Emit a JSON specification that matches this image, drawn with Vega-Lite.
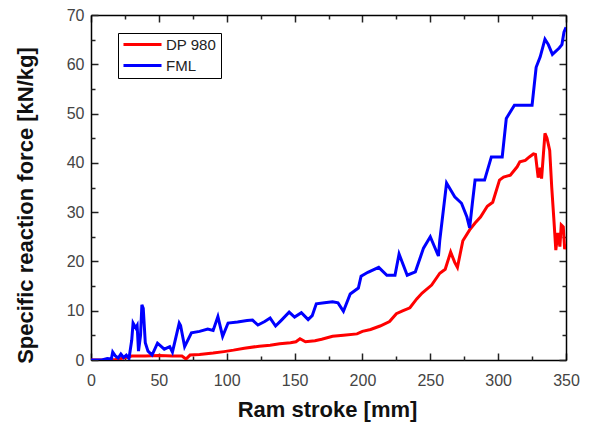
{
  "$schema": "https://vega.github.io/schema/vega-lite/v6.json",
  "width": 475,
  "height": 345,
  "autosize": "none",
  "padding": {"left": 91, "top": 15, "right": 25, "bottom": 68},
  "background": "white",
  "config": {
    "view": {"stroke": null},
    "axis": {"grid": false, "domainColor": "black", "domainWidth": 1.5, "tickColor": "#222", "tickWidth": 1.5, "labelFlush": false,
             "labelFont": "Liberation Sans", "labelFontSize": 16, "labelColor": "#444",
             "titleFont": "Liberation Sans", "titleFontSize": 22, "titleFontWeight": "bold", "titleColor": "#111"}
  },
  "data": {"values": [
    {"s":"DP 980","x":0,"y":0},{"s":"DP 980","x":10,"y":0},{"s":"DP 980","x":18,"y":0.1},{"s":"DP 980","x":22,"y":0.3},{"s":"DP 980","x":27,"y":0.6},{"s":"DP 980","x":30,"y":0.8},{"s":"DP 980","x":40,"y":0.8},{"s":"DP 980","x":50,"y":0.9},{"s":"DP 980","x":60,"y":0.8},{"s":"DP 980","x":67,"y":0.8},{"s":"DP 980","x":70,"y":0.2},{"s":"DP 980","x":73,"y":1.0},{"s":"DP 980","x":80,"y":1.1},{"s":"DP 980","x":90,"y":1.4},{"s":"DP 980","x":98,"y":1.7},{"s":"DP 980","x":105,"y":2.0},{"s":"DP 980","x":113,"y":2.4},{"s":"DP 980","x":124,"y":2.8},{"s":"DP 980","x":132,"y":3.0},{"s":"DP 980","x":139,"y":3.3},{"s":"DP 980","x":147,"y":3.5},{"s":"DP 980","x":151,"y":3.7},{"s":"DP 980","x":154,"y":4.3},{"s":"DP 980","x":158,"y":3.7},{"s":"DP 980","x":165,"y":3.9},{"s":"DP 980","x":170,"y":4.2},{"s":"DP 980","x":178,"y":4.8},{"s":"DP 980","x":186,"y":5.0},{"s":"DP 980","x":196,"y":5.3},{"s":"DP 980","x":200,"y":5.8},{"s":"DP 980","x":206,"y":6.2},{"s":"DP 980","x":213,"y":6.9},{"s":"DP 980","x":220,"y":7.8},{"s":"DP 980","x":225,"y":9.4},{"s":"DP 980","x":230,"y":10.0},{"s":"DP 980","x":235,"y":10.6},{"s":"DP 980","x":240,"y":12.4},{"s":"DP 980","x":244,"y":13.6},{"s":"DP 980","x":251,"y":15.2},{"s":"DP 980","x":257,"y":17.6},{"s":"DP 980","x":261,"y":18.4},{"s":"DP 980","x":265,"y":21.9},{"s":"DP 980","x":268,"y":19.8},{"s":"DP 980","x":270,"y":18.8},{"s":"DP 980","x":274,"y":24.2},{"s":"DP 980","x":279,"y":26.4},{"s":"DP 980","x":283,"y":27.8},{"s":"DP 980","x":287,"y":29.0},{"s":"DP 980","x":292,"y":31.2},{"s":"DP 980","x":296,"y":32.0},{"s":"DP 980","x":301,"y":36.5},{"s":"DP 980","x":304,"y":37.1},{"s":"DP 980","x":309,"y":37.5},{"s":"DP 980","x":314,"y":39.2},{"s":"DP 980","x":316,"y":40.2},{"s":"DP 980","x":320,"y":40.5},{"s":"DP 980","x":323,"y":41.2},{"s":"DP 980","x":326,"y":41.8},{"s":"DP 980","x":327.5,"y":41.7},{"s":"DP 980","x":329.5,"y":37.0},{"s":"DP 980","x":331,"y":39.0},{"s":"DP 980","x":332,"y":36.8},{"s":"DP 980","x":334.5,"y":46.0},{"s":"DP 980","x":336,"y":45.0},{"s":"DP 980","x":338,"y":42.5},{"s":"DP 980","x":339.5,"y":35.0},{"s":"DP 980","x":341,"y":28.8},{"s":"DP 980","x":342.5,"y":22.3},{"s":"DP 980","x":344,"y":25.8},{"s":"DP 980","x":345.5,"y":23.0},{"s":"DP 980","x":346.5,"y":27.4},{"s":"DP 980","x":348,"y":27.0},{"s":"DP 980","x":349,"y":22.5},{"s":"DP 980","x":350,"y":23.5},
    {"s":"FML","x":0,"y":0},{"s":"FML","x":8,"y":0},{"s":"FML","x":12,"y":0.3},{"s":"FML","x":15,"y":0.2},{"s":"FML","x":16,"y":1.6},{"s":"FML","x":18,"y":0.8},{"s":"FML","x":20,"y":0.4},{"s":"FML","x":22,"y":1.2},{"s":"FML","x":24,"y":0.5},{"s":"FML","x":26,"y":1.0},{"s":"FML","x":28,"y":0.3},{"s":"FML","x":30,"y":4.0},{"s":"FML","x":31,"y":7.5},{"s":"FML","x":33,"y":6.5},{"s":"FML","x":34,"y":7.0},{"s":"FML","x":35,"y":1.8},{"s":"FML","x":36.5,"y":5.0},{"s":"FML","x":37.5,"y":11.2},{"s":"FML","x":38.5,"y":10.5},{"s":"FML","x":40,"y":3.5},{"s":"FML","x":42,"y":1.8},{"s":"FML","x":45,"y":1.0},{"s":"FML","x":49,"y":3.4},{"s":"FML","x":54,"y":2.2},{"s":"FML","x":58,"y":2.7},{"s":"FML","x":60,"y":1.6},{"s":"FML","x":65,"y":7.5},{"s":"FML","x":66,"y":7.0},{"s":"FML","x":69,"y":2.7},{"s":"FML","x":74,"y":5.5},{"s":"FML","x":80,"y":5.8},{"s":"FML","x":86,"y":6.3},{"s":"FML","x":90,"y":6.0},{"s":"FML","x":93.5,"y":8.8},{"s":"FML","x":97,"y":4.8},{"s":"FML","x":101,"y":7.5},{"s":"FML","x":108,"y":7.7},{"s":"FML","x":115,"y":8.0},{"s":"FML","x":119,"y":8.1},{"s":"FML","x":123,"y":7.1},{"s":"FML","x":128,"y":7.8},{"s":"FML","x":132,"y":8.5},{"s":"FML","x":136,"y":6.9},{"s":"FML","x":140,"y":8.0},{"s":"FML","x":146,"y":9.7},{"s":"FML","x":150,"y":8.7},{"s":"FML","x":155,"y":9.6},{"s":"FML","x":160,"y":8.2},{"s":"FML","x":163,"y":9.0},{"s":"FML","x":166,"y":11.4},{"s":"FML","x":172,"y":11.6},{"s":"FML","x":178,"y":11.8},{"s":"FML","x":182,"y":11.6},{"s":"FML","x":186,"y":9.9},{"s":"FML","x":191,"y":13.4},{"s":"FML","x":197,"y":14.6},{"s":"FML","x":199,"y":17.0},{"s":"FML","x":204,"y":17.8},{"s":"FML","x":212,"y":18.8},{"s":"FML","x":218,"y":17.2},{"s":"FML","x":224,"y":17.2},{"s":"FML","x":227,"y":21.5},{"s":"FML","x":233,"y":17.2},{"s":"FML","x":239,"y":17.9},{"s":"FML","x":245,"y":22.7},{"s":"FML","x":250,"y":25.0},{"s":"FML","x":256,"y":21.1},{"s":"FML","x":257,"y":24.3},{"s":"FML","x":262,"y":35.9},{"s":"FML","x":268,"y":33.1},{"s":"FML","x":273,"y":31.8},{"s":"FML","x":277,"y":29.0},{"s":"FML","x":279,"y":26.8},{"s":"FML","x":281,"y":31.8},{"s":"FML","x":283,"y":36.5},{"s":"FML","x":290,"y":36.5},{"s":"FML","x":295,"y":41.2},{"s":"FML","x":303,"y":41.2},{"s":"FML","x":306,"y":49.0},{"s":"FML","x":312,"y":51.7},{"s":"FML","x":325,"y":51.7},{"s":"FML","x":328,"y":59.4},{"s":"FML","x":331,"y":61.5},{"s":"FML","x":334.5,"y":65.1},{"s":"FML","x":337,"y":64.0},{"s":"FML","x":340,"y":62.0},{"s":"FML","x":345,"y":63.3},{"s":"FML","x":347,"y":64.0},{"s":"FML","x":348.5,"y":66.5},{"s":"FML","x":350,"y":67.5}
  ]},
  "layer": [
    {
      "mark": {"type": "line", "strokeWidth": 3, "clip": true},
      "encoding": {
        "x": {"field": "x", "type": "quantitative", "scale": {"domain": [0, 350], "nice": false, "zero": false},
              "axis": {"orient": "bottom", "values": [0,50,100,150,200,250,300,350], "tickSize": -7, "labelPadding": 19,
                       "title": "Ram stroke [mm]", "titleX": 236, "titleY": 56, "titleBaseline": "alphabetic", "titleAnchor": null, "titleAlign": "center"}},
        "y": {"field": "y", "type": "quantitative", "scale": {"domain": [0, 70], "nice": false, "zero": false},
              "axis": {"orient": "left", "values": [0,10,20,30,40,50,60,70], "tickSize": -7, "labelPadding": 14,
                       "title": "Specific reaction force [kN/kg]", "titleX": -66, "titleY": 190, "titleAngle": -90, "titleAlign": "center", "titleBaseline": "middle"}},
        "color": {"field": "s", "type": "nominal", "scale": {"domain": ["DP 980", "FML"], "range": ["#ff0000", "#0000ff"]},
                  "legend": {"title": null, "orient": "none", "legendX": 27, "legendY": 18, "symbolType": "M-3.17,0H3.17", "symbolSize": 144,
                             "symbolStrokeWidth": 3, "symbolOffset": 13, "labelFont": "Liberation Sans", "labelFontSize": 15, "labelColor": "#222",
                             "strokeColor": "black", "padding": 4, "rowPadding": 5, "labelOffset": 16}}
      }
    },
    {
      "mark": {"type": "point", "opacity": 0},
      "encoding": {
        "x": {"field": "x", "type": "quantitative", "scale": {"domain": [0, 350], "nice": false, "zero": false}, "axis": {"orient": "bottom", "values": [25,75,125,175,225,275,325], "tickSize": -4, "labels": false, "domain": false, "title": null}},
        "y": {"field": "y", "type": "quantitative", "scale": {"domain": [0, 70], "nice": false, "zero": false}, "axis": {"orient": "left", "values": [5,15,25,35,45,55,65], "tickSize": -4, "labels": false, "domain": false, "title": null}}
      }
    },
    {
      "mark": {"type": "point", "opacity": 0},
      "encoding": {
        "x": {"field": "x", "type": "quantitative", "scale": {"domain": [0, 350], "nice": false, "zero": false}, "axis": {"orient": "top", "values": [0,50,100,150,200,250,300,350], "tickSize": -7, "labels": false, "title": null}},
        "y": {"field": "y", "type": "quantitative", "scale": {"domain": [0, 70], "nice": false, "zero": false}, "axis": {"orient": "right", "values": [0,10,20,30,40,50,60,70], "tickSize": -7, "labels": false, "title": null}}
      }
    },
    {
      "mark": {"type": "point", "opacity": 0},
      "encoding": {
        "x": {"field": "x", "type": "quantitative", "scale": {"domain": [0, 350], "nice": false, "zero": false}, "axis": {"orient": "top", "values": [25,75,125,175,225,275,325], "tickSize": -4, "labels": false, "domain": false, "title": null}},
        "y": {"field": "y", "type": "quantitative", "scale": {"domain": [0, 70], "nice": false, "zero": false}, "axis": {"orient": "right", "values": [5,15,25,35,45,55,65], "tickSize": -4, "labels": false, "domain": false, "title": null}}
      }
    }
  ],
  "resolve": {"axis": {"x": "independent", "y": "independent"}}
}
